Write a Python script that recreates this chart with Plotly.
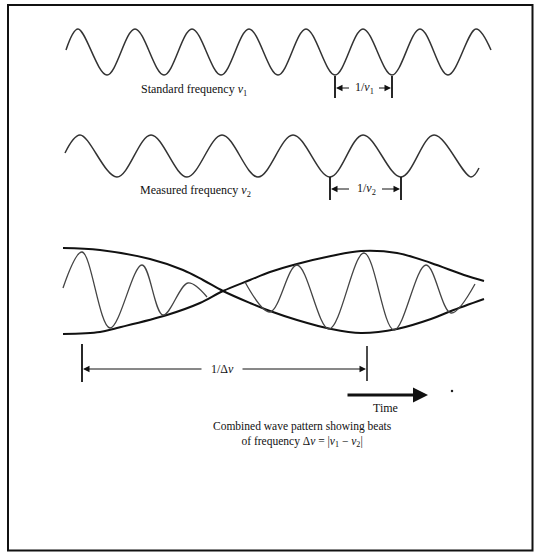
import plotly.graph_objects as go

# ---- data (time axis t, vertical value v; drawing units) ----
# Standard frequency wave: start, alternating peaks/troughs, end
wave1_t = [66, 78, 107, 135, 164, 192, 221, 249, 278, 306, 335, 363, 392, 420, 448, 476, 491]
wave1_v = [50, 29, 75, 29, 75, 29, 75, 29, 75, 29, 75, 29, 75, 29, 75, 29, 50]

# Measured frequency wave
wave2_t = [65, 80, 117, 151, 187, 222, 258, 293, 330, 363, 401, 434, 471, 479]
wave2_v = [153, 135, 177, 135, 177, 135, 177, 135, 177, 135, 177, 135, 177, 168]

# Beat envelopes
envA_t = [63, 100, 150, 183, 203, 223, 250, 270, 297, 331, 361, 397, 431, 451, 484]
envA_v = [248, 250, 259, 270, 280, 291, 303, 311, 320, 329, 333, 329, 319, 311, 299]
envB_t = [63, 100, 117, 167, 200, 223, 250, 270, 297, 331, 361, 397, 431, 464, 484]
envB_v = [334, 332, 328, 315, 303, 291, 280, 272, 264, 256, 251, 253, 263, 275, 281]

# Combined wave (two drawn pieces either side of the node)
beat1_t = [63, 82, 110, 142, 163, 188, 207]
beat1_v = [288, 252, 328, 265, 315, 283, 297]
beat2_t = [245, 270, 297, 329, 364, 394, 426, 451, 475]
beat2_v = [282, 312, 265, 329, 253, 330, 265, 313, 284]

# indices of the extrema used for the period markers
p1_idx = (10, 12)   # troughs in wave1
p2_idx = (8, 10)    # troughs in wave2
beat_idx = (1, 4)   # peaks: beat1[1] .. beat2[4]

SERIF = "Liberation Serif"
W, H = 534, 552

fig = go.Figure()

def curve(t, v, width, color, smoothing=1.0):
    fig.add_trace(go.Scatter(x=t, y=v, mode="lines",
                             line=dict(shape="spline", smoothing=smoothing,
                                       width=width, color=color),
                             hoverinfo="skip", showlegend=False))

curve(wave1_t, wave1_v, 1.5, "#333333")
curve(wave2_t, wave2_v, 1.5, "#333333")
curve(envA_t, envA_v, 2.0, "#111111")
curve(envB_t, envB_v, 2.0, "#111111")
curve(beat1_t, beat1_v, 1.3, "#444444")
curve(beat2_t, beat2_v, 1.3, "#444444")

shapes = []
annotations = []

def vline(x, y0, y1, w=1.8):
    shapes.append(dict(type="line", xref="x", yref="y", x0=x, x1=x, y0=y0, y1=y1,
                       line=dict(color="#111111", width=w)))

def arrow(xh, xt, y, w=1.0, size=1.3, head=2):
    annotations.append(dict(x=xh, y=y, ax=xt, ay=y, xref="x", yref="y",
                            axref="x", ayref="y", text="", showarrow=True,
                            arrowhead=head, arrowsize=size, arrowwidth=w,
                            arrowcolor="#111111"))

def label(x, y, text, size=12, xanchor="center"):
    annotations.append(dict(x=x, y=y, xref="x", yref="y", text=text, showarrow=False,
                            xanchor=xanchor, yanchor="middle",
                            font=dict(family=SERIF, size=size, color="#111111")))

# period marker 1
a, b = wave1_t[p1_idx[0]], wave1_t[p1_idx[1]]
vline(a, 76, 98); vline(b, 76, 98)
arrow(a + 1, (a + b) / 2 - 13, 88)
arrow(b - 1, (a + b) / 2 + 14, 88)
label((a + b) / 2 + 1, 88, "1/<i>ν</i><sub>1</sub>", 12)
label(194, 90, "Standard frequency <i>ν</i><sub>1</sub>", 12)

# period marker 2
a, b = wave2_t[p2_idx[0]], wave2_t[p2_idx[1]]
vline(a, 177, 200); vline(b, 177, 200)
arrow(a + 1, (a + b) / 2 - 15, 189)
arrow(b - 1, (a + b) / 2 + 15, 189)
label((a + b) / 2 + 1, 189, "1/<i>ν</i><sub>2</sub>", 12)
label(195, 191, "Measured frequency <i>ν</i><sub>2</sub>", 12)

# beat period marker
a, b = beat1_t[beat_idx[0]], beat2_t[beat_idx[1]] + 3
vline(a, 344, 382); vline(b, 346, 381, 1.5)
arrow(a + 1, 203, 369)
arrow(b - 1, 241, 369)
label(222, 369, "1/Δ<i>ν</i>", 12)

# time arrow
arrow(428, 346, 395, w=3, size=1.0, head=2)
label(385, 408, "Time", 12)
fig.add_trace(go.Scatter(x=[452], y=[391], mode="markers",
                         marker=dict(size=2.5, color="#222222"),
                         hoverinfo="skip", showlegend=False))

# caption
label(302, 434, "Combined wave pattern showing beats<br>of frequency Δ<i>ν</i> = |<i>ν</i><sub>1</sub> − <i>ν</i><sub>2</sub>|", 11.5)

# frame
shapes.append(dict(type="rect", xref="x", yref="y", x0=8, x1=532.5, y0=5, y1=550.5,
                   line=dict(color="#111111", width=2)))

fig.update_layout(width=W, height=H, margin=dict(l=0, r=0, t=0, b=0),
                  paper_bgcolor="white", plot_bgcolor="white",
                  shapes=shapes, annotations=annotations,
                  xaxis=dict(range=[0, W], visible=False, fixedrange=True),
                  yaxis=dict(range=[H, 0], visible=False, fixedrange=True))

fig.write_html("out.html", config={"displayModeBar": False},
               post_script="document.body.style.margin='0px';document.body.style.overflow='hidden';")
